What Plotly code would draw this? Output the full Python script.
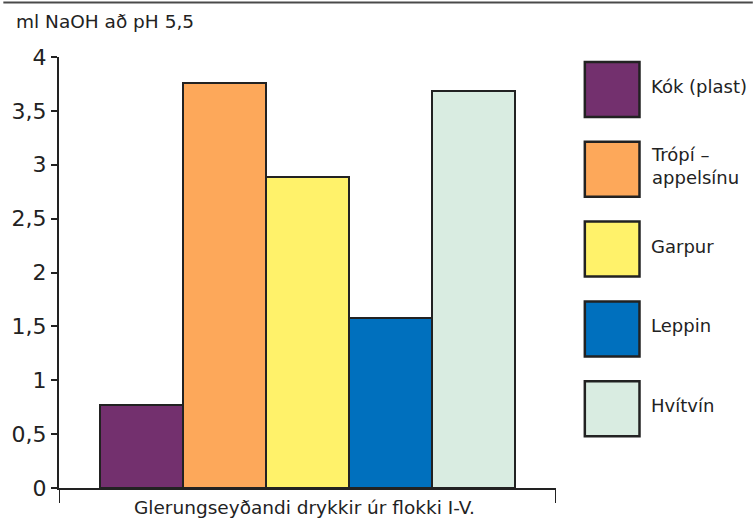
import plotly.graph_objects as go

categories = ["Kók (plast)", "Trópí – appelsínu", "Garpur", "Leppin", "Hvítvín"]
legend_labels = ["Kók (plast)", "Trópí –<br>appelsínu", "Garpur", "Leppin", "Hvítvín"]
values = [0.77, 3.76, 2.89, 1.58, 3.68]
colors = ["#73306E", "#FDA85A", "#FFF26A", "#0070BE", "#D9ECE1"]
y_tickvals = [0, 0.5, 1, 1.5, 2, 2.5, 3, 3.5, 4]
y_ticktext = ["0", "0,5", "1", "1,5", "2", "2,5", "3", "3,5", "4"]
y_title = "ml NaOH að pH 5,5"
x_title = "Glerungseyðandi drykkir úr flokki I-V."

W, H = 754, 519
L, R, T, B = 56, 556, 57, 488
FONT = "DejaVu Sans"
INK = "#222222"

def px(x):
    return (x - L) / (R - L)

def py(y):
    return (B - y) / (B - T)

fig = go.Figure()
fig.add_trace(go.Bar(
    x=categories, y=values, width=1,
    marker=dict(color=colors, line=dict(color=INK, width=2)),
    showlegend=False,
))

shapes = []
annotations = []
# top rule
shapes.append(dict(type="line", xref="paper", yref="paper",
                   x0=px(0), x1=px(W), y0=py(2.5), y1=py(2.5),
                   line=dict(color="#4a4a4a", width=2)))
# end ticks of x axis
for xv in [-1, 5]:
    shapes.append(dict(type="line", xref="x", yref="paper",
                       x0=xv, x1=xv, y0=0, y1=py(503),
                       line=dict(color=INK, width=2)))
# custom legend
top0, step, size = 62, 79.8, 55
for i, (lab, col) in enumerate(zip(legend_labels, colors)):
    t = top0 + i * step
    shapes.append(dict(type="rect", xref="paper", yref="paper",
                       x0=px(585), x1=px(640), y0=py(t + size), y1=py(t),
                       fillcolor=col, line=dict(color=INK, width=2.5)))
    annotations.append(dict(xref="paper", yref="paper", x=px(650), y=py(t + size / 2 - 3),
                            text=lab, showarrow=False, xanchor="left", yanchor="middle",
                            align="left", font=dict(family=FONT, size=18, color=INK)))

annotations.append(dict(xref="paper", yref="paper", x=px(11), y=py(22), text=y_title,
                        showarrow=False, xanchor="left", yanchor="middle",
                        font=dict(family=FONT, size=18.5, color=INK)))
annotations.append(dict(xref="paper", yref="paper", x=px(303), y=py(507), text=x_title,
                        showarrow=False, xanchor="center", yanchor="middle",
                        font=dict(family=FONT, size=18.5, color=INK)))

fig.update_layout(
    width=W, height=H,
    margin=dict(l=L, r=W - R, t=T, b=H - B, pad=0),
    paper_bgcolor="white", plot_bgcolor="white",
    bargap=0,
    shapes=shapes, annotations=annotations,
    xaxis=dict(type="category", range=[-1, 5], showticklabels=False, ticks="",
               showgrid=False, zeroline=False, showline=True, linecolor=INK, linewidth=2,
               fixedrange=True),
    yaxis=dict(range=[0, 4], tickvals=y_tickvals, ticktext=y_ticktext,
               ticks="outside", ticklen=6, tickwidth=1.5, tickcolor=INK,
               showgrid=False, zeroline=False, showline=True, linecolor=INK, linewidth=2,
               tickfont=dict(family=FONT, size=22, color=INK), fixedrange=True),
)

fig.write_html("out.html", config={"displayModeBar": False},
               post_script="document.body.style.margin='0';document.body.style.overflow='hidden';")
